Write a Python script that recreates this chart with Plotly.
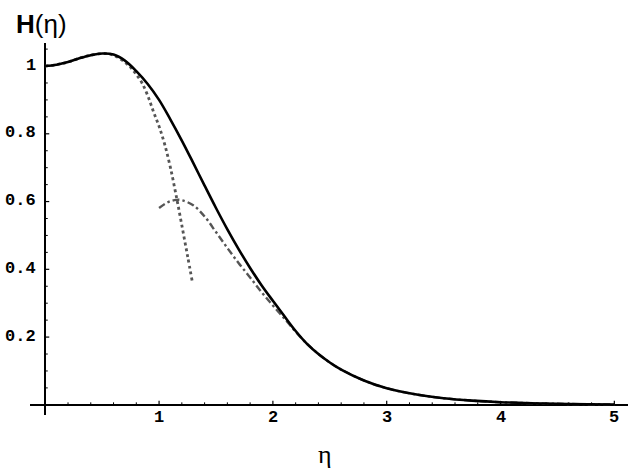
import plotly.graph_objects as go

# ---- data ----
eta_solid = [0, 0.1, 0.2, 0.3, 0.4, 0.5, 0.6, 0.7, 0.8, 0.9, 1.0, 1.1, 1.2, 1.3, 1.4,
             1.5, 1.6, 1.7, 1.8, 1.9, 2.0, 2.1, 2.2, 2.3, 2.4, 2.5, 2.6, 2.8, 3.0, 3.25,
             3.5, 3.75, 4.0, 4.5, 5.0]
H_solid = [1.000, 1.004, 1.012, 1.023, 1.032, 1.037, 1.034, 1.016, 0.985, 0.947, 0.900,
           0.842, 0.780, 0.714, 0.647, 0.581, 0.518, 0.459, 0.404, 0.353, 0.307, 0.262,
           0.218, 0.180, 0.150, 0.125, 0.104, 0.072, 0.049, 0.031, 0.0196, 0.0124,
           0.0078, 0.0031, 0.0012]

eta_dotted = [0, 0.1, 0.2, 0.3, 0.4, 0.5, 0.6, 0.7, 0.75, 0.8, 0.85, 0.9, 0.95, 1.0,
              1.05, 1.1, 1.15, 1.2, 1.25, 1.29]
H_dotted = [1.000, 1.004, 1.012, 1.023, 1.032, 1.037, 1.032, 1.011, 0.996, 0.975, 0.950,
            0.913, 0.866, 0.822, 0.768, 0.700, 0.618, 0.530, 0.440, 0.367]

eta_dashdot = [1.0, 1.05, 1.1, 1.15, 1.2, 1.3, 1.4, 1.5, 1.6, 1.7, 1.8, 1.9, 2.0, 2.1,
               2.2, 2.3, 2.4, 2.5, 2.6, 2.8, 3.0, 3.25, 3.5, 3.75, 4.0, 4.5, 5.0]
H_dashdot = [0.581, 0.593, 0.601, 0.605, 0.604, 0.589, 0.556, 0.510, 0.463, 0.418, 0.376,
             0.333, 0.293, 0.255, 0.216, 0.180, 0.150, 0.125, 0.104, 0.072, 0.049, 0.031,
             0.0196, 0.0124, 0.0078, 0.0031, 0.0012]

x_major = [1, 2, 3, 4, 5]
x_labels = ["1", "2", "3", "4", "5"]
y_major = [0.2, 0.4, 0.6, 0.8, 1.0]
y_labels = ["0.2", "0.4", "0.6", "0.8", "1"]
x_minor = [round(0.2 * i, 2) for i in range(1, 26) if (i % 5) != 0]
y_minor = [round(0.05 * i, 2) for i in range(1, 22) if (i % 4) != 0]

title_text = "<b>H</b>(η)"
xlabel_text = "η"

fig = go.Figure()
fig.add_trace(go.Scatter(x=eta_dotted, y=H_dotted, mode="lines", line_shape="spline",
                         line=dict(color="#555555", width=2.8, dash="dot"), showlegend=False))
fig.add_trace(go.Scatter(x=eta_dashdot, y=H_dashdot, mode="lines", line_shape="spline",
                         line=dict(color="#555555", width=2.4, dash="7px,3px,2.5px,3px"),
                         showlegend=False))
fig.add_trace(go.Scatter(x=eta_solid, y=H_solid, mode="lines", line_shape="spline",
                         line=dict(color="black", width=2.6), showlegend=False))

shapes = []
for v in x_major:
    shapes.append(dict(type="line", xref="x", yref="y", x0=v, x1=v, ysizemode="pixel",
                       yanchor=0, y0=0, y1=4, line=dict(color="black", width=1.2)))
for v in x_minor:
    shapes.append(dict(type="line", xref="x", yref="y", x0=v, x1=v, ysizemode="pixel",
                       yanchor=0, y0=0, y1=2.5, line=dict(color="black", width=1)))
for v in y_major:
    shapes.append(dict(type="line", xref="x", yref="y", y0=v, y1=v, xsizemode="pixel",
                       xanchor=0, x0=0, x1=4, line=dict(color="black", width=1.2)))
for v in y_minor:
    shapes.append(dict(type="line", xref="x", yref="y", y0=v, y1=v, xsizemode="pixel",
                       xanchor=0, x0=0, x1=2.5, line=dict(color="black", width=1)))

annotations = []
tick_font = dict(family="Liberation Mono", size=17, color="black")
for v, t in zip(x_major, x_labels):
    annotations.append(dict(x=v, y=0, xref="x", yref="y", text="<b>%s</b>" % t,
                            showarrow=False, yanchor="middle", yshift=-13, font=tick_font))
for v, t in zip(y_major, y_labels):
    annotations.append(dict(x=0, y=v, xref="x", yref="y", text="<b>%s</b>" % t,
                            showarrow=False, xanchor="right", xshift=-7, yshift=1,
                            font=tick_font))
annotations.append(dict(x=-0.027, y=1.051, xref="paper", yref="paper", text=title_text,
                        showarrow=False, xanchor="left", yanchor="middle",
                        font=dict(family="Liberation Sans", size=26, color="black")))
annotations.append(dict(x=0.493, y=-0.1075, xref="paper", yref="paper", text=xlabel_text,
                        showarrow=False, xanchor="center", yanchor="middle",
                        font=dict(family="Liberation Serif", size=26, color="black")))

fig.update_layout(
    width=630, height=468,
    margin=dict(l=30, r=2, t=43, b=53),
    paper_bgcolor="white", plot_bgcolor="white",
    xaxis=dict(range=[-0.134, 5.12], showgrid=False, showticklabels=False, ticks="",
               zeroline=True, zerolinecolor="black", zerolinewidth=2, showline=False),
    yaxis=dict(range=[-0.03, 1.068], showgrid=False, showticklabels=False, ticks="",
               zeroline=True, zerolinecolor="black", zerolinewidth=2, showline=False),
    shapes=shapes, annotations=annotations,
)
fig.write_html("out.html", config={"displayModeBar": False},
               post_script="document.body.style.margin='0';document.body.style.padding='0';")
